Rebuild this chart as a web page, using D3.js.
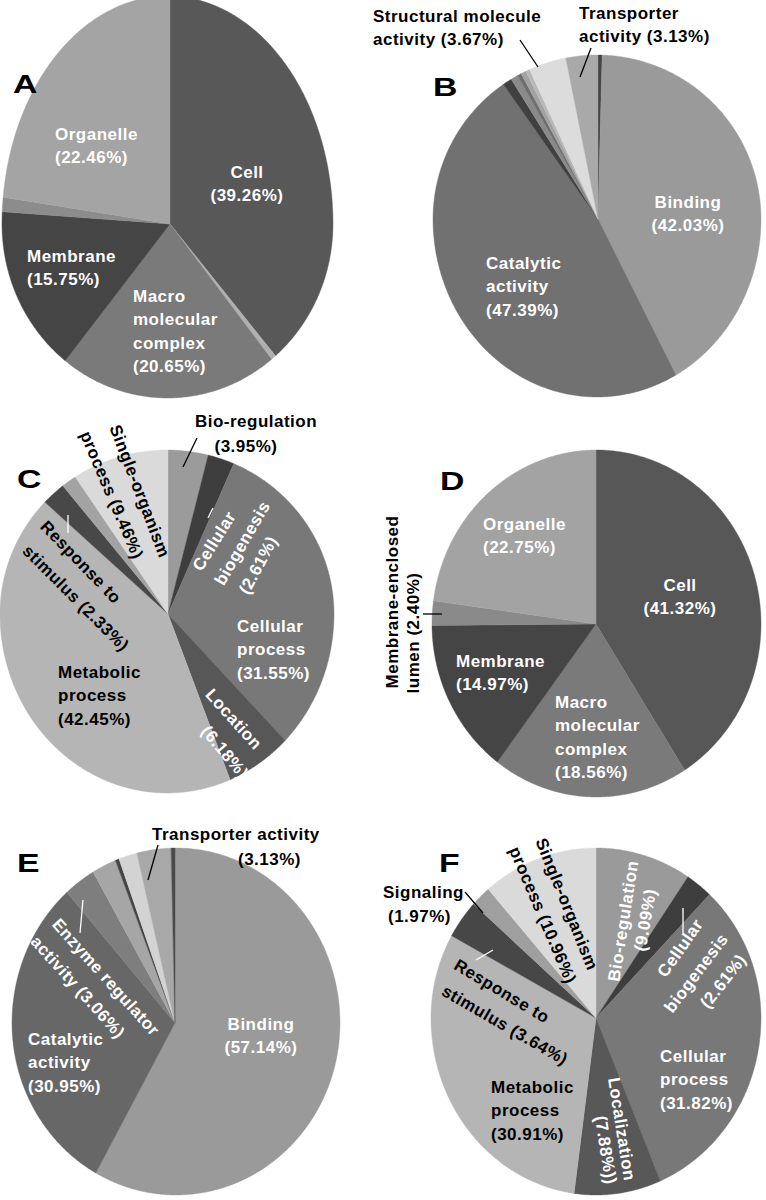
<!DOCTYPE html>
<html><head><meta charset="utf-8">
<script src="https://cdn.jsdelivr.net/npm/d3@7/dist/d3.min.js"></script>
<style>
body{margin:0;background:#fff}
svg{display:block}
text{font-family:"Liberation Sans",Arial,Helvetica,sans-serif;font-weight:bold}
</style>
</head><body>
<svg id="chart" width="766" height="1200"></svg>
<script>
// ---------- DATA (clockwise from 12 o'clock) ----------
const aCategories = ["Cell", "minor-1", "Macro molecular complex", "Membrane", "minor-2", "Organelle"];
const aValues     = [39.26, 0.5, 20.65, 15.75, 1.38, 22.46];
const aColors     = ["#585858", "#b0b0b0", "#7a7a7a", "#454545", "#8c8c8c", "#a4a4a4"];

const bCategories = ["minor-top", "Binding", "Catalytic activity", "minor-dark", "minor-1", "minor-2", "minor-3", "minor-4", "Structural molecule activity", "Transporter activity"];
const bValues     = [0.4, 42.03, 47.39, 0.9, 0.7, 0.4, 0.5, 0.4, 3.67, 3.13];
const bColors     = ["#444444", "#9a9a9a", "#717171", "#404040", "#8a8a8a", "#6e6e6e", "#a2a2a2", "#b8b8b8", "#dcdcdc", "#a9a9a9"];

const cCategories = ["Bio-regulation", "Cellular biogenesis", "Cellular process", "Location", "Metabolic process", "Response to stimulus", "minor", "Single-organism process"];
const cValues     = [3.95, 2.61, 31.55, 6.18, 42.45, 2.33, 1.47, 9.46];
const cColors     = ["#9b9b9b", "#3e3e3e", "#787878", "#575757", "#b5b5b5", "#484848", "#a3a3a3", "#dadada"];

const dCategories = ["Cell", "Macro molecular complex", "Membrane", "Membrane-enclosed lumen", "Organelle"];
const dValues     = [41.32, 18.56, 14.97, 2.40, 22.75];
const dColors     = ["#575757", "#7a7a7a", "#454545", "#8a8a8a", "#a3a3a3"];

const eCategories = ["Binding", "Catalytic activity", "Enzyme regulator activity", "minor-1", "minor-dark", "minor-2", "Transporter activity", "minor-top"];
const eValues     = [57.14, 30.95, 3.06, 2.3, 0.35, 1.7, 3.13, 0.35];
const eColors     = ["#9a9a9a", "#676767", "#7e7e7e", "#a6a6a6", "#444444", "#d3d3d3", "#a8a8a8", "#4a4a4a"];

const fCategories = ["Bio-regulation", "Cellular biogenesis", "Cellular process", "Localization", "Metabolic process", "Response to stimulus", "Signaling", "Single-organism process"];
const fValues     = [9.09, 2.61, 31.82, 7.88, 30.91, 3.64, 1.97, 10.96];
const fColors     = ["#9a9a9a", "#3e3e3e", "#787878", "#585858", "#b5b5b5", "#474747", "#9f9f9f", "#dadada"];

const panelLetters = ["A", "B", "C", "D", "E", "F"];

// ---------- LAYOUT ----------
const svg = d3.select("#chart");
svg.append("rect").attr("width", 766).attr("height", 1200).attr("fill", "#fff");

// conv = point where slices meet; shape = [ex, ey, rx, ryUp, ryDown]
const panels = [
  {cat: aCategories, val: aValues, col: aColors, conv: [170, 224], shape: [167.5, 224, 165.5, 228, 174], letter: [13, 93]},
  {cat: bCategories, val: bValues, col: bColors, conv: [598, 219], shape: [597, 219, 164, 164, 178], letter: [433, 96]},
  {cat: cCategories, val: cValues, col: cColors, conv: [168, 614], shape: [167, 614, 167, 164, 179], letter: [17, 488]},
  {cat: dCategories, val: dValues, col: dColors, conv: [596, 624], shape: [596.5, 624, 164.5, 174, 173], letter: [440, 490]},
  {cat: eCategories, val: eValues, col: eColors, conv: [175, 1023], shape: [176, 1023, 164, 175, 172], letter: [17, 872]},
  {cat: fCategories, val: fValues, col: fColors, conv: [596, 1018], shape: [596, 1018, 165, 170, 177], letter: [439, 872]}
];

const TAU = 2 * Math.PI;
function outline(s, phi) {
  const [ex, ey, rx, ryU, ryD] = s;
  const c = Math.cos(phi);
  return [ex + rx * Math.sin(phi), ey - (c > 0 ? ryU : ryD) * c];
}
function wrap(a) { a = ((a + Math.PI) % TAU + TAU) % TAU - Math.PI; return a; }
// outline parameter whose point lies at visual angle a seen from the convergence point
function phiFor(conv, s, a) {
  let phi = a;
  for (let k = 0; k < 40; k++) {
    const p = outline(s, phi);
    const g = Math.atan2(p[0] - conv[0], -(p[1] - conv[1]));
    phi += wrap(a - g);
  }
  return phi;
}
const line = d3.line();
function slicePath(conv, s, a0, a1) {
  const f0 = phiFor(conv, s, a0);
  let f1 = phiFor(conv, s, a1);
  while (f1 < f0) f1 += TAU;
  const n = Math.max(2, Math.ceil((f1 - f0) / 0.01));
  const pts = [conv];
  for (let k = 0; k <= n; k++) pts.push(outline(s, f0 + (f1 - f0) * k / n));
  return line(pts) + "Z";
}

const pie = d3.pie().sort(null).value(d => d);

panels.forEach((P, i) => {
  const g = svg.append("g");
  const color = d3.scaleOrdinal().domain(P.cat).range(P.col);
  g.selectAll("path").data(pie(P.val)).join("path")
    .attr("d", d => slicePath(P.conv, P.shape, d.startAngle, d.endAngle))
    .attr("fill", (d, j) => color(P.cat[j]))
    .attr("stroke", (d, j) => color(P.cat[j]))
    .attr("stroke-width", 0.4);
  svg.append("text").text(panelLetters[i])
    .attr("transform", `translate(${P.letter[0]},${P.letter[1]}) scale(1.3,1)`)
    .attr("font-size", 26).attr("fill", "#000");
});

// ---------- LABELS ----------
const FS = 17;
// horizontal labels: [lines, x, firstBaseline, anchor, fill]
const hLabels = [
  [["Organelle", "(22.46%)"], 55, 140, "start", "#fff"],
  [["Cell", "(39.26%)"], 247, 178, "middle", "#fff"],
  [["Membrane", "(15.75%)"], 27, 262, "start", "#fff"],
  [["Macro", "molecular", "complex", "(20.65%)"], 133, 302, "start", "#fff"],
  [["Structural molecule", "activity (3.67%)"], 373, 22, "start", "#000"],
  [["Transporter", "activity (3.13%)"], 579, 19, "start", "#000"],
  [["Binding", "(42.03%)"], 688, 208, "middle", "#fff"],
  [["Catalytic", "activity", "(47.39%)"], 486, 269, "start", "#fff"],
  [["Bio-regulation"], 256, 427, "middle", "#000"],
  [["(3.95%)"], 246, 452, "middle", "#000"],
  [["Cellular", "process", "(31.55%)"], 237, 632, "start", "#fff"],
  [["Metabolic", "process", "(42.45%)"], 58, 678, "start", "#000"],
  [["Organelle", "(22.75%)"], 483, 530, "start", "#fff"],
  [["Cell", "(41.32%)"], 680, 591, "middle", "#fff"],
  [["Membrane", "(14.97%)"], 456, 667, "start", "#fff"],
  [["Macro", "molecular", "complex", "(18.56%)"], 555, 708, "start", "#fff"],
  [["Transporter activity"], 152, 840, "start", "#000"],
  [["(3.13%)"], 238, 865, "start", "#000"],
  [["Catalytic", "activity", "(30.95%)"], 28, 1045, "start", "#fff"],
  [["Binding", "(57.14%)"], 261, 1030, "middle", "#fff"],
  [["Signaling"], 383, 898, "start", "#000"],
  [["(1.97%)"], 388, 922, "start", "#000"],
  [["Cellular", "process", "(31.82%)"], 660, 1062, "start", "#fff"],
  [["Metabolic", "process", "(30.91%)"], 491, 1093, "start", "#000"]
];
hLabels.forEach(([lines, x, y, anchor, fill]) => {
  const t = svg.append("text").attr("font-size", FS).attr("fill", fill)
    .attr("text-anchor", anchor).attr("letter-spacing", 0.5);
  lines.forEach((s, k) => t.append("tspan").attr("x", x).attr("y", y + k * 23.3).text(s));
});

// rotated single lines: [text, centerX, centerY, angle, fill]
const rLabels = [
  ["Single-organism", 140, 491, 69, "#000"],
  ["process (9.46%)", 112, 495, 67, "#000"],
  ["Response to", 81, 562, 46, "#000"],
  ["stimulus  (2.33%)", 76, 598, 45, "#000"],
  ["Cellular", 214, 541, -58, "#fff"],
  ["biogenesis", 242, 543, -60, "#fff"],
  ["(2.61%)", 258, 565, -62, "#fff"],
  ["Location", 234, 719, 48, "#fff"],
  ["(6.18%)", 225, 752, 50, "#fff"],
  ["Membrane-enclosed", 392, 602, -90, "#000"],
  ["lumen (2.40%)", 413, 633, -90, "#000"],
  ["Enzyme regulator", 106, 977, 48, "#fff"],
  ["activity (3.06%)", 78, 987, 48, "#fff"],
  ["Single-organism", 567, 904, 68, "#000"],
  ["process (10.96%)", 543, 915, 67, "#000"],
  ["Bio-regulation", 623, 921, -81, "#fff"],
  ["(9.09%)", 645, 920, -80, "#fff"],
  ["Cellular", 680, 948, -55, "#fff"],
  ["biogenesis", 696, 973, -53, "#fff"],
  ["(2.61%)", 723, 981, -52, "#fff"],
  ["Response to", 502, 991, 31, "#000"],
  ["stimulus (3.64%)", 505, 1025, 30, "#000"],
  ["Localization", 622, 1129, 81, "#fff"],
  ["(7.88%))", 606, 1150, 81, "#fff"]
];
rLabels.forEach(([s, x, y, a, fill]) => {
  svg.append("text").attr("font-size", FS).attr("fill", fill)
    .attr("text-anchor", "middle").attr("dy", "0.35em").attr("letter-spacing", 0.5)
    .attr("transform", `translate(${x},${y}) rotate(${a})`).text(s);
});

// leader lines: [x1, y1, x2, y2, colour]
const leaders = [
  [520, 40, 538, 67, "#000"],
  [591, 48, 580, 77, "#000"],
  [197, 438, 183, 467, "#000"],
  [213, 508, 208, 518, "#fff"],
  [68, 515, 68, 533, "#fff"],
  [423, 614, 442, 614, "#000"],
  [158, 845, 148, 880, "#000"],
  [83, 900, 80, 933, "#fff"],
  [465, 892, 483, 913, "#000"],
  [683, 908, 683, 933, "#fff"],
  [493, 950, 476, 960, "#fff"]
];
svg.selectAll("line.leader").data(leaders).join("line").attr("class", "leader")
  .attr("x1", d => d[0]).attr("y1", d => d[1]).attr("x2", d => d[2]).attr("y2", d => d[3])
  .attr("stroke", d => d[4]).attr("stroke-width", 1.3);
</script>
</body></html>
